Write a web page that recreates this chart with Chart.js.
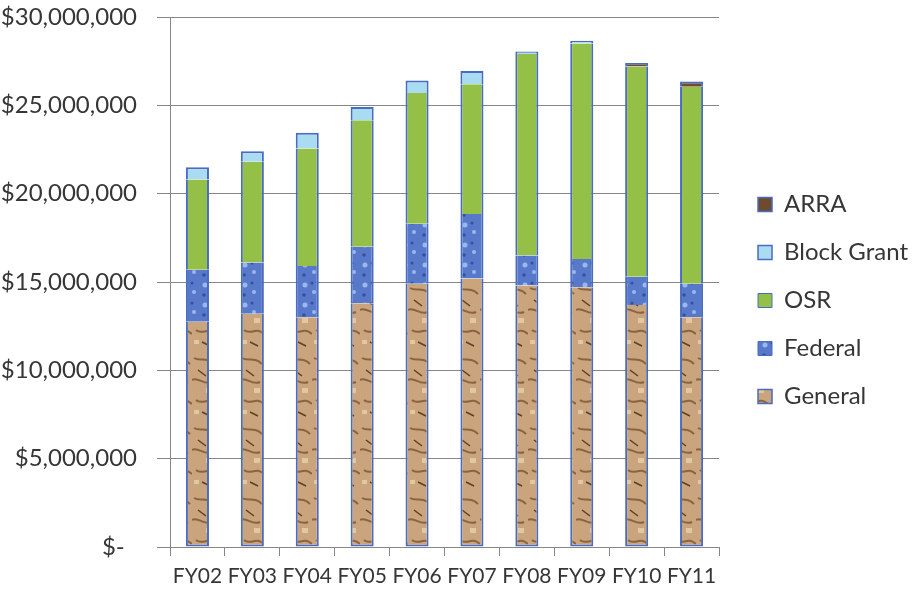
<!DOCTYPE html>
<html>
<head>
<meta charset="utf-8">
<script src="https://cdn.jsdelivr.net/npm/chart.js@4.4.1/dist/chart.umd.min.js"></script>
<style>
  html, body { margin: 0; padding: 0; background: #fff; }
  #wrap { width: 918px; height: 593px; }
</style>
</head>
<body>
<div id="wrap"><canvas id="fundingChart"></canvas></div>
<script>
const categories = ["FY02", "FY03", "FY04", "FY05", "FY06", "FY07", "FY08", "FY09", "FY10", "FY11"];
const general    = [12750000, 13200000, 13000000, 13800000, 14900000, 15200000, 14800000, 14700000, 13700000, 13000000];
const federal    = [2950000, 2900000, 2900000, 3200000, 3400000, 3650000, 1700000, 1600000, 1600000, 1900000];
const osr        = [5100000, 5700000, 6650000, 7150000, 7400000, 7350000, 11400000, 12200000, 11900000, 11150000];
const blockGrant = [700000, 600000, 900000, 750000, 700000, 750000, 150000, 150000, 0, 0];
const arra       = [0, 0, 0, 0, 0, 0, 0, 0, 200000, 300000];
const yTicks     = [0, 5000000, 10000000, 15000000, 20000000, 25000000, 30000000];

// textured fills, roughly like the picture fills in the original
function woodPattern(ctx) {
    const c = document.createElement("canvas");
    c.width = 24; c.height = 70;
    const g = c.getContext("2d");
    g.fillStyle = "#c9a47c";
    g.fillRect(0, 0, 24, 70);
    g.strokeStyle = "#8a6440";
    g.lineWidth = 2;
    g.beginPath();
    g.moveTo(2, 8); g.bezierCurveTo(8, 12, 14, 6, 22, 14);
    g.moveTo(0, 30); g.bezierCurveTo(6, 26, 12, 36, 20, 32);
    g.moveTo(4, 50); g.bezierCurveTo(10, 56, 16, 46, 24, 54);
    g.stroke();
    g.strokeStyle = "#5e4026";
    g.lineWidth = 1.5;
    g.beginPath();
    g.moveTo(6, 20); g.lineTo(14, 26);
    g.moveTo(10, 62); g.lineTo(18, 66);
    g.stroke();
    g.fillStyle = "#e2c7a4";
    g.fillRect(14, 38, 6, 5);
    g.fillRect(2, 60, 5, 4);
    return ctx.createPattern(c, "repeat");
}

function bluePattern(ctx) {
    const c = document.createElement("canvas");
    c.width = 20; c.height = 20;
    const g = c.getContext("2d");
    g.fillStyle = "#5879c9";
    g.fillRect(0, 0, 20, 20);
    g.fillStyle = "#9bb7ee";
    g.beginPath(); g.arc(5, 5, 2.5, 0, Math.PI * 2); g.fill();
    g.beginPath(); g.arc(14, 12, 2, 0, Math.PI * 2); g.fill();
    g.fillStyle = "#34519e";
    g.beginPath(); g.arc(12, 3, 1.5, 0, Math.PI * 2); g.fill();
    g.beginPath(); g.arc(4, 15, 1.8, 0, Math.PI * 2); g.fill();
    return ctx.createPattern(c, "repeat");
}

function money(v) {
    if (v === 0) return "$-  ";
    return "$" + v.toLocaleString("en-US");
}

document.addEventListener("DOMContentLoaded", () => {
    const ctx = document.getElementById("fundingChart").getContext("2d");
    const edge = "#4a6bc2";
    const family = "Lato, 'Open Sans', sans-serif";
    const textColor = "#363636";

    new Chart(ctx, {
        type: "bar",
        data: {
            labels: categories,
            datasets: [
                { label: "General", data: general, backgroundColor: woodPattern(ctx), borderColor: edge,
                  borderWidth: { left: 2, right: 2, bottom: 2, top: 0 } },
                { label: "Federal", data: federal, backgroundColor: bluePattern(ctx), borderColor: edge,
                  borderWidth: { left: 2, right: 2, bottom: 0, top: 0 } },
                { label: "OSR", data: osr, backgroundColor: "#94c047", borderColor: edge,
                  borderWidth: { left: 2, right: 2, bottom: 0, top: 0 } },
                { label: "Block Grant", data: blockGrant, backgroundColor: "#a9dcf0", borderColor: edge,
                  borderWidth: { left: 2, right: 2, bottom: 0, top: 2 } },
                { label: "ARRA", data: arra, backgroundColor: "#6e4b2c", borderColor: edge,
                  borderWidth: { left: 2, right: 2, bottom: 0, top: 2 } }
            ]
        },
        options: {
            responsive: true,
            maintainAspectRatio: false,
            animation: false,
            datasets: { bar: { barPercentage: 0.42, categoryPercentage: 1, borderSkipped: false } },
            layout: { padding: { top: 8, left: 0, right: 0, bottom: 0 } },
            plugins: {
                tooltip: { enabled: false },
                legend: {
                    position: "right",
                    reverse: true,
                    maxWidth: 230,
                    labels: {
                        color: textColor,
                        font: { family: family, size: 24 },
                        boxWidth: 14,
                        boxHeight: 14,
                        padding: 24
                    }
                }
            },
            scales: {
                x: {
                    stacked: true,
                    offset: true,
                    afterFit: axis => { axis.height = 46; },
                    grid: { offset: true, drawOnChartArea: false, drawTicks: true, tickLength: 9, color: "#868686" },
                    border: { color: "#868686" },
                    ticks: { color: textColor, font: { family: family, size: 21 }, padding: 8,
                             maxRotation: 0, autoSkip: false }
                },
                y: {
                    stacked: true,
                    min: 0,
                    max: 30000000,
                    afterBuildTicks: axis => { axis.ticks = yTicks.map(v => ({ value: v })); },
                    afterFit: axis => { axis.width = 170; axis.paddingTop = 17; axis.paddingBottom = 12; },
                    grid: { color: "#868686", tickLength: 13 },
                    border: { color: "#868686" },
                    ticks: { color: textColor, font: { family: family, size: 24, lineHeight: 1 },
                             padding: 20, callback: v => money(v) }
                },
                // empty axis used only as a gap between plot and legend
                gap: {
                    type: "linear",
                    position: "right",
                    grid: { display: false },
                    border: { display: false },
                    ticks: { display: false },
                    afterFit: axis => { axis.width = 15; axis.paddingTop = 0; axis.paddingBottom = 0; }
                }
            }
        }
    });
});
</script>
</body>
</html>
